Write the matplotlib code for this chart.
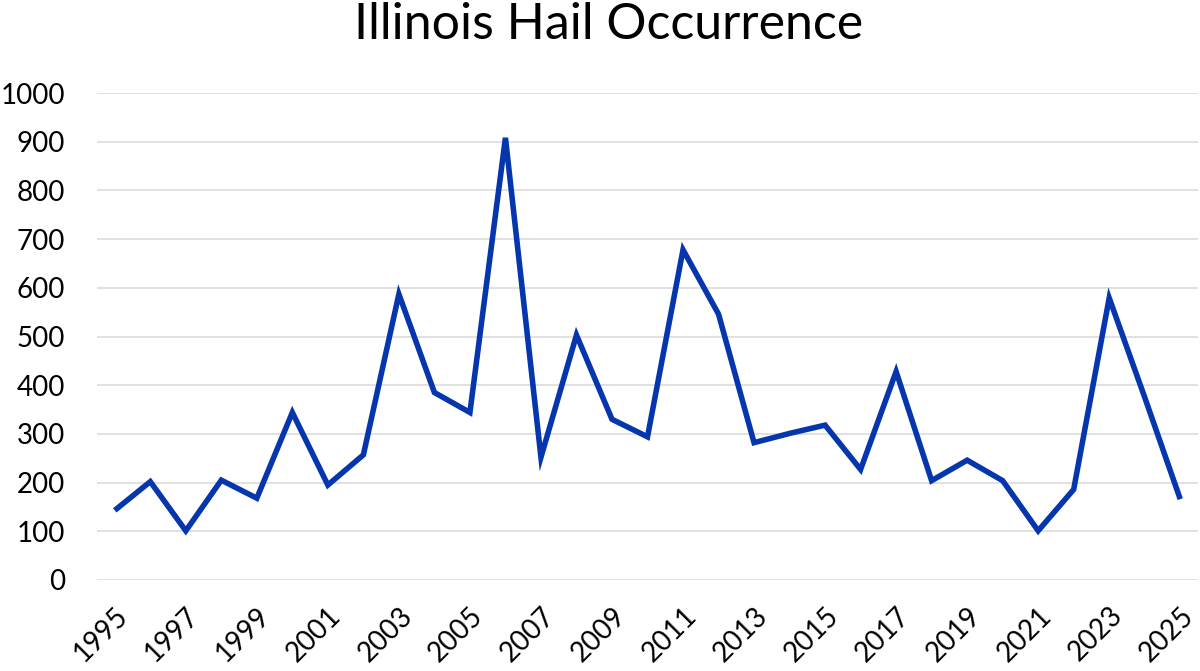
import matplotlib
matplotlib.use("Agg")
import matplotlib.pyplot as plt
from matplotlib.transforms import ScaledTranslation

years = list(range(1995, 2026))
hail_counts = [143, 202, 101, 205, 168, 344, 195, 257, 587, 385, 344,
               908, 252, 503, 330, 294, 678, 546, 282, 301, 318,
               227, 428, 204, 246, 204, 101, 186, 579, 375, 166]
title = "Illinois Hail Occurrence"
y_ticks = list(range(0, 1001, 100))
x_tick_labels = [str(y) for y in years[::2]]

plt.rcParams['font.family'] = ['Lato', 'DejaVu Sans']

fig = plt.figure(figsize=(12, 6.71), dpi=100)
ax = fig.add_axes([97/1200, 1 - 580/671, (1198 - 97)/1200, (580 - 93)/671])

ax.plot(years, hail_counts, color='#0636AE', linewidth=4.0, solid_joinstyle='miter',
        solid_capstyle='butt', zorder=3)

ax.set_xlim(years[0] - 0.5, years[-1] + 0.5)
ax.set_ylim(0, 1000)
ax.set_yticks(y_ticks)
ax.set_yticklabels([str(v) for v in y_ticks])
ax.set_xticks(years[::2])
ax.set_xticklabels(x_tick_labels, rotation=45, ha='right', va='top',
                   rotation_mode='anchor')
offset = ScaledTranslation(0.05, 0, fig.dpi_scale_trans)
for lbl in ax.get_xticklabels():
    lbl.set_transform(lbl.get_transform() + offset)

ax.grid(axis='y', color='#D9D9D9', linewidth=1.1, zorder=0)
ax.set_axisbelow(True)
for s in ax.spines.values():
    s.set_visible(False)
ax.tick_params(axis='both', length=0, labelsize=20, colors='black')
ax.tick_params(axis='y', pad=23)
ax.tick_params(axis='x', pad=16)

fig.text(609/1200, 1 - 25/671, title, ha='center', va='center', fontsize=36, color='black')

fig.savefig("out.png", dpi=100, facecolor='white')
